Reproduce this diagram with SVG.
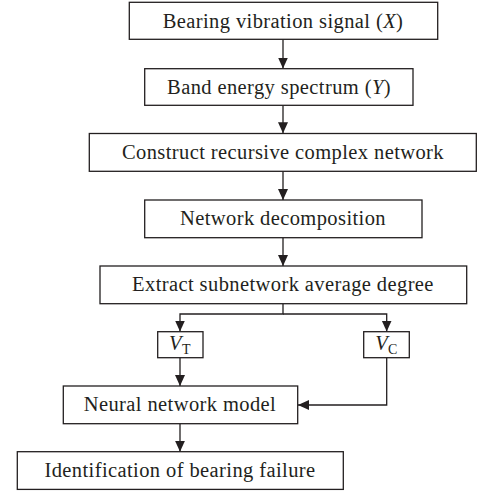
<svg xmlns="http://www.w3.org/2000/svg" width="477" height="492" viewBox="0 0 477 492">
<style>
.box{fill:#fff;stroke:#231f20;stroke-width:1.3}
.t{font-family:"Liberation Serif",serif;font-size:20.5px;letter-spacing:0.4px;fill:#231f20;text-anchor:middle}
.ln{fill:none;stroke:#231f20;stroke-width:1.3}
.it{font-style:italic}
</style>
<defs>
<marker id="ah" markerUnits="userSpaceOnUse" markerWidth="11" markerHeight="11" refX="11" refY="5.5" orient="auto">
<path d="M0,0.5 L11,5.5 L0,10.5 z" fill="#231f20"/>
</marker>
</defs>
<rect width="477" height="492" fill="#fff"/>
<g id="connectors">
<line class="ln" x1="283" y1="39.3" x2="283" y2="68.5" marker-end="url(#ah)"/>
<line class="ln" x1="283" y1="105.3" x2="283" y2="133.3" marker-end="url(#ah)"/>
<line class="ln" x1="283" y1="171.3" x2="283" y2="200" marker-end="url(#ah)"/>
<line class="ln" x1="283" y1="237.7" x2="283" y2="266" marker-end="url(#ah)"/>
<polyline class="ln" points="283,303.7 283,314 180,314 180,331.5" marker-end="url(#ah)"/>
<polyline class="ln" points="283,314 386.7,314 386.7,331.5" marker-end="url(#ah)"/>
<line class="ln" x1="180" y1="357.7" x2="180" y2="386" marker-end="url(#ah)"/>
<polyline class="ln" points="386.7,357.7 386.7,405 298,405" marker-end="url(#ah)"/>
<line class="ln" x1="180" y1="423.7" x2="180" y2="451.7" marker-end="url(#ah)"/>
</g>
<g id="n1"><rect class="box" x="129.3" y="2.3" width="308.4" height="37"/><text class="t" x="283" y="27.5">Bearing vibration signal (<tspan class="it">X</tspan>)</text></g>
<g id="n2"><rect class="box" x="144.7" y="68.7" width="268.3" height="36.6"/><text class="t" x="279" y="93.5">Band energy spectrum (<tspan class="it">Y</tspan>)</text></g>
<g id="n3"><rect class="box" x="89.3" y="133.5" width="387" height="37.8"/><text class="t" x="283" y="158.5">Construct recursive complex network</text></g>
<g id="n4"><rect class="box" x="144.7" y="200" width="277.3" height="37.7"/><text class="t" x="283" y="225">Network decomposition</text></g>
<g id="n5"><rect class="box" x="100" y="266" width="366.7" height="37.7"/><text class="t" x="283" y="291">Extract subnetwork average degree</text></g>
<g id="n6"><rect class="box" x="157.7" y="331.7" width="45.3" height="26"/><text class="t" x="180" y="350"><tspan class="it">V</tspan><tspan font-size="14" dy="4">T</tspan></text></g>
<g id="n7"><rect class="box" x="363.7" y="331.7" width="45.6" height="26"/><text class="t" x="386.5" y="350"><tspan class="it">V</tspan><tspan font-size="14" dy="4">C</tspan></text></g>
<g id="n8"><rect class="box" x="63.3" y="386" width="234.4" height="37.7"/><text class="t" x="180" y="411">Neural network model</text></g>
<g id="n9"><rect class="box" x="17.3" y="451.7" width="326" height="37.7"/><text class="t" x="180" y="476.5">Identification of bearing failure</text></g>
</svg>
